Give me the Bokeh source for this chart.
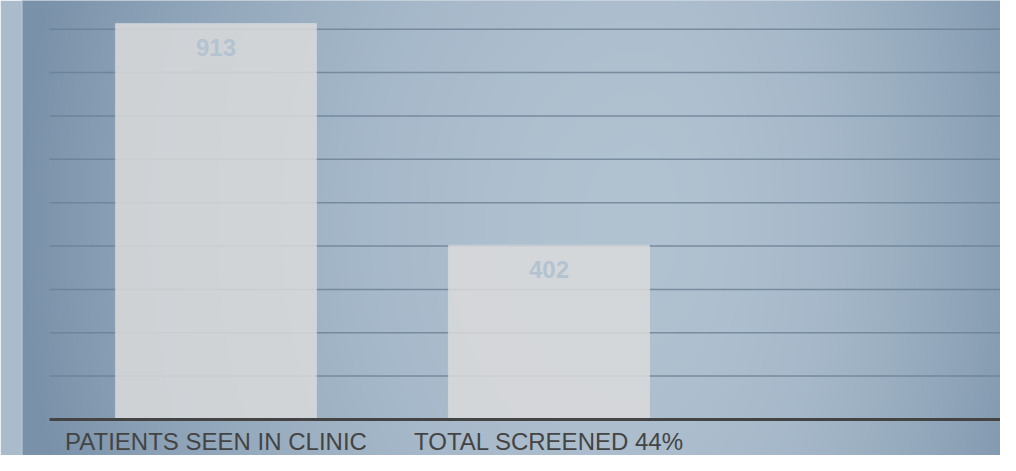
import numpy as np
from bokeh.plotting import figure
from bokeh.models import Range1d, LinearAxis, FixedTicker
from bokeh.core.properties import value
from bokeh.embed import file_html
from bokeh.resources import INLINE

# ---- data ----
categories = ["PATIENTS SEEN IN CLINIC", "TOTAL SCREENED 44%"]
counts = [913, 402]
grid_levels = [100, 200, 300, 400, 500, 600, 700, 800, 900]

xs = list(range(len(categories)))
labels = [str(c) for c in counts]

# ---- layout ----
W, H = 1000, 455
LEFT = 21
x_start, x_end = -0.584, 2.356
y_start, y_end = -83.0, 966.0

p = figure(width=W, height=H, x_range=Range1d(x_start, x_end), y_range=Range1d(y_start, y_end),
           output_backend="svg", toolbar_location=None, x_axis_type=None, y_axis_type=None,
           min_border=0, min_border_left=LEFT)
p.outline_line_color = None
p.border_fill_color = "#aabccb"
p.background_fill_color = "#9fb2c4"

# background gradient (style only)
fw, fh = W - LEFT, H
cols = np.arange(fw)
rows = np.arange(fh)
sx = LEFT + cols[None, :] + 0.5
sy = fh - rows[:, None] - 0.5
cx, cy = 640.0, 220.0
dx = (sx - cx) / np.where(sx < cx, 620.0, 420.0)
dy = (sy - cy) / 800.0
t = np.clip(dx ** 2 + dy ** 2, 0, 1)
light = np.array([176, 193, 208], dtype=float)
dark = np.array([121, 145, 169], dtype=float)
img = np.empty((fh, fw), dtype=np.uint32)
view = img.view(dtype=np.uint8).reshape((fh, fw, 4))
for k in range(3):
    view[:, :, k] = np.round(light[k] + (dark[k] - light[k]) * t).astype(np.uint8)
view[:, :, 3] = 255
p.image_rgba(image=[img], x=x_start, y=y_start, dw=x_end - x_start, dh=y_end - y_start)

# thin light edge between side strip and panel
p.segment(x0=x_start, y0=y_start, x1=x_start, y1=y_end, line_color="#c3ccd4", line_width=2)

# grid lines
p.segment(x0=-0.5, y0=grid_levels, x1=3.0, y1=grid_levels, line_color="#6b7f93", line_width=1.5, line_alpha=0.8)

# bars
p.vbar(x=xs, top=counts, bottom=0, width=0.604, fill_color="#dadada", fill_alpha=0.85,
       line_color="#e6eaee", line_alpha=0.35, line_width=1)

# value labels
p.text(x=xs, y=counts, text=labels, text_align="center", text_baseline="top", y_offset=16,
       text_font=value("Liberation Sans"), text_font_style="bold", text_font_size="24px",
       text_color="#b3c3d1")

# category axis on the baseline
axis = LinearAxis(ticker=FixedTicker(ticks=xs),
                  major_label_overrides={i: c for i, c in zip(xs, categories)},
                  fixed_location=0, bounds=(-0.5, 3.0))
axis.axis_line_color = "#444444"
axis.axis_line_width = 3
axis.major_tick_line_color = None
axis.minor_tick_line_color = None
axis.major_tick_out = 0
axis.major_tick_in = 0
axis.major_label_standoff = 9
axis.major_label_text_font = "Liberation Sans"
axis.major_label_text_font_size = "24px"
axis.major_label_text_color = "#444444"
p.add_layout(axis, "below")

open("out.html", "w").write(file_html(p, INLINE))
